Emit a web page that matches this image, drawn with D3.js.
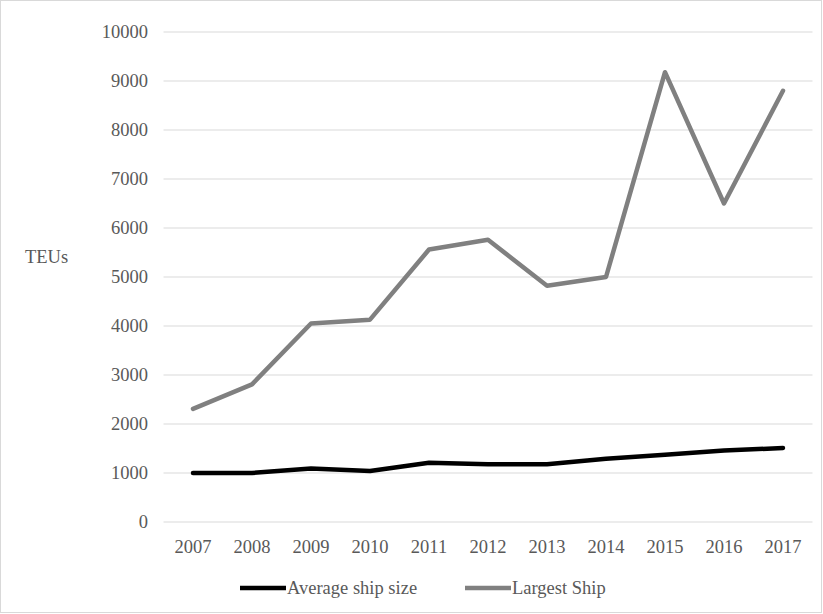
<!DOCTYPE html>
<html><head><meta charset="utf-8">
<script src="https://cdn.jsdelivr.net/npm/d3@7"></script>
<style>body{margin:0;background:#fff}text{font-family:"Liberation Serif",serif;fill:#595959;font-size:18.5px}</style>
</head><body><svg id="svg1" width="823" height="614"></svg>
<script>
var years = ['2007','2008','2009','2010','2011','2012','2013','2014','2015','2016','2017'];
var averageShip = [1000,1000,1090,1040,1210,1180,1180,1290,1370,1460,1510];
var largestShip = [2310,2810,4050,4130,5560,5760,4820,5000,9180,6500,8800];
var yTicks = [0,1000,2000,3000,4000,5000,6000,7000,8000,9000,10000];

var svg = d3.select('#svg1');
svg.append('rect').attr('x',0.5).attr('y',0.5).attr('width',821).attr('height',612)
    .attr('fill','none').attr('stroke','#d9d9d9');

var x = d3.scaleBand().domain(years).range([163.5,812.5]);
var y = d3.scaleLinear().domain([0,10000]).range([522,32]);

svg.selectAll('.grid').data(yTicks).enter().append('line')
    .attr('x1',163.5).attr('x2',812.5)
    .attr('y1',function(d){return y(d);}).attr('y2',function(d){return y(d);})
    .attr('stroke','#d9d9d9').attr('stroke-width',1);

svg.selectAll('.ylab').data(yTicks).enter().append('text')
    .attr('x',148).attr('y',function(d){return y(d)+6;})
    .attr('text-anchor','end').text(function(d){return d;});

svg.selectAll('.xlab').data(years).enter().append('text')
    .attr('x',function(d){return x(d)+x.bandwidth()/2;}).attr('y',553)
    .attr('text-anchor','middle').text(function(d){return d;});

svg.append('text').attr('x',25).attr('y',263).text('TEUs');

var line = d3.line()
    .x(function(d,i){return x(years[i])+x.bandwidth()/2;})
    .y(function(d){return y(d);});

svg.append('path').datum(largestShip).attr('d',line).attr('fill','none')
    .attr('stroke','#808080').attr('stroke-width',4.5).attr('stroke-linecap','round').attr('stroke-linejoin','round');
svg.append('path').datum(averageShip).attr('d',line).attr('fill','none')
    .attr('stroke','#000').attr('stroke-width',4.5).attr('stroke-linecap','round').attr('stroke-linejoin','round');

var legend = [{name:'Average ship size',color:'#000',x:240},{name:'Largest Ship',color:'#808080',x:465}];
legend.forEach(function(l){
    svg.append('line').attr('x1',l.x).attr('x2',l.x+46).attr('y1',588).attr('y2',588)
        .attr('stroke',l.color).attr('stroke-width',4.5);
    svg.append('text').attr('x',l.x+47).attr('y',594).text(l.name);
});
</script></body></html>
